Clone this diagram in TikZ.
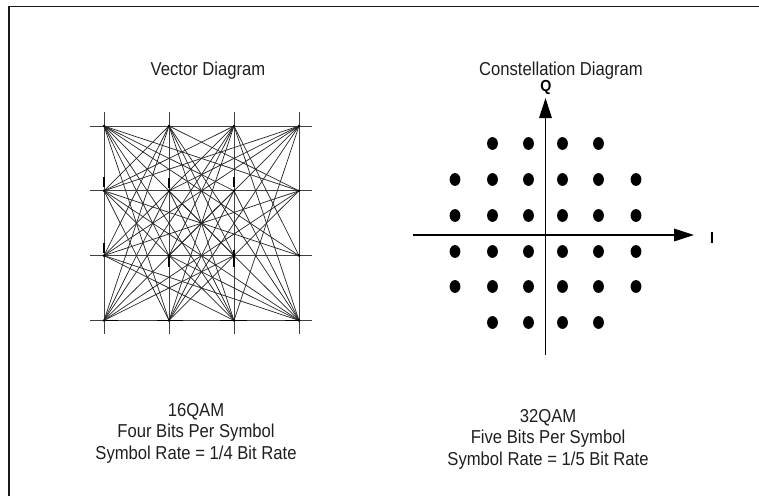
\documentclass[tikz,border=0pt]{standalone}
\usepackage{fontspec}
\setmainfont{Liberation Sans}[FakeStretch=0.89]
\usetikzlibrary{arrows.meta}
\begin{document}
\begin{tikzpicture}[x=1pt,y=-1pt,
  gridline/.style={black!75, line width=0.85pt},
  vec/.style={black!85, line width=0.72pt},
  thickseg/.style={black, line width=1.7pt},
  axisline/.style={black, line width=1.6pt, -{Triangle[length=20pt,width=12.5pt]}},
  lbl/.style={font=\fontsize{18.7}{21.5}\selectfont, align=center, inner sep=0pt, text=black!88},
  axlbl/.style={font=\bfseries\fontsize{16}{16}\selectfont, inner sep=0pt}
]
\useasboundingbox (0,0) rectangle (759,495);
% frame
\draw[line width=1.6pt, black!90] (9,496) -- (9,6.5) -- (760,6.5);

% ---------- Vector diagram ----------
\foreach \c in {0,...,3}{
  \foreach \r in {0,...,3}{
    \coordinate (p\c\r) at ({104+65*\c},{126+64.8*\r});
  }
}
\foreach \c in {0,...,3}{
  \draw[gridline] ({104+65*\c},112) -- ({104+65*\c},334);
}
\foreach \r in {0,...,3}{
  \draw[gridline] (90,{126+64.8*\r}) -- (312,{126+64.8*\r});
}
\foreach \a/\b in {
  00/31, 00/21, 00/32, 00/22, 00/12, 00/13, 00/23,
  10/01, 10/02, 10/03, 10/31, 10/22, 10/23,
  20/01, 20/02, 20/12, 20/13, 20/03, 20/32,
  30/01, 30/11, 30/02, 30/12, 30/13, 30/23,
  03/11, 03/21, 03/31, 03/22,
  13/01, 13/21, 13/31,
  23/01, 23/11, 23/02,
  33/02, 33/01, 33/11, 33/21, 33/12, 33/10, 33/20,
  01/32, 02/31}{
  \draw[vec] (p\a) -- (p\b);
}
% heavy marks where lines overlap
\draw[thickseg] (p03) -- ++(14,0);
\draw[thickseg] (p13) ++(-12,0) -- ++(26,0);
\draw[thickseg] (p23) ++(-14,0) -- ++(27,0);
\draw[thickseg] (p33) ++(-14,0) -- ++(14,0);
\draw[thickseg] (p01) ++(0,-14) -- ++(0,10);
\draw[thickseg] (p02) ++(0,-13) -- ++(0,10);
\draw[thickseg] (p11) ++(0,-13) -- ++(0,10);
\draw[thickseg] (p21) ++(0,-14) -- ++(0,10);
\draw[thickseg] (p22) ++(0,-6) -- ++(0,17);
\draw[thickseg] (p12) ++(0,1) -- ++(0,10);
\foreach \c in {0,...,3}{
  \foreach \r in {0,...,3}{
    \fill[black] (p\c\r) circle (1.4pt);
  }
}

% ---------- Constellation diagram ----------
\coordinate (qbot) at (545.5,355);
\coordinate (qtop) at (545.5,98);
\coordinate (ileft) at (413,235);
\coordinate (iright) at (694,235);
\draw[axisline] (qbot) -- (qtop);
\draw[axisline] (ileft) -- (iright);
\node[axlbl] (Q) at (546,87) {Q};
\node[axlbl] (I) at (712,238) {I};

\def\xs{{455,492.5,528.5,562.5,598.5,636}}
\def\ys{{143.5,179.5,215.5,251.5,286.5,322.5}}
\foreach \r in {0,...,5}{
  \foreach \c in {0,...,5}{
    \pgfmathsetmacro{\skip}{((\r==0 || \r==5) && (\c==0 || \c==5)) ? 1 : 0}
    \ifdim\skip pt<0.5pt
      \pgfmathsetmacro{\px}{\xs[\c]}
      \pgfmathsetmacro{\py}{\ys[\r]}
      \fill[black] (\px,\py) ellipse [x radius=5.4pt, y radius=6.4pt];
    \fi
  }
}

% ---------- Texts ----------
\node[lbl] (vt) at (208,71) {Vector Diagram};
\node[lbl] (ct) at (561,71) {Constellation Diagram};
\node[lbl] (lt) at (196,433) {16QAM\\Four Bits Per Symbol\\Symbol Rate = 1/4 Bit Rate};
\node[lbl] (rt) at (548,439) {32QAM\\Five Bits Per Symbol\\Symbol Rate = 1/5 Bit Rate};
\end{tikzpicture}
\end{document}
